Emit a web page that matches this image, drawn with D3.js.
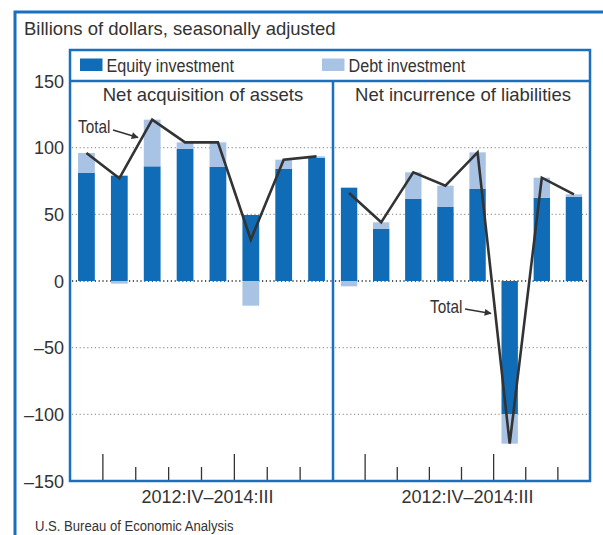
<!DOCTYPE html>
<html>
<head>
<meta charset="utf-8">
<script src="https://cdn.jsdelivr.net/npm/d3@7"></script>
<style>
  html, body { margin: 0; padding: 0; background: #fff; }
  svg { display: block; }
  .reg { font-family: "Liberation Sans", Arial, sans-serif; fill: #333; }
  .nar { font-family: "Liberation Sans", Arial, sans-serif; fill: #333; }
</style>
</head>
<body>
<svg id="chart" width="603" height="535"></svg>
<script>
// ---- data ----
const quarters = ["2012:IV","2013:I","2013:II","2013:III","2013:IV","2014:I","2014:II","2014:III"];
const assetsEquity = [81, 79, 86, 99, 85.5, 49.5, 84, 92.5];
const assetsDebt   = [15, -2, 35, 5, 18.5, -18.5, 7, 1];
const liabEquity   = [70, 39, 61.5, 55.5, 69, -100, 62.5, 63];
const liabDebt     = [-4, 5, 20, 16, 27.5, -22, 15, 2];
const yTicks = [150, 100, 50, 0, -50, -100, -150];
const gridValues = [100, 50, 0, -50, -100];
const panelTitles = ["Net acquisition of assets", "Net incurrence of liabilities"];
const xAxisLabel = "2012:IV\u20132014:III";
const seriesNames = ["Equity investment", "Debt investment"];

// ---- styling ----
const BLUE = "#1a6fbf";
const EQ = "#106cb6";
const DEBT = "#a9c3e4";
const LINE = "#333333";
const NARROW = 0.85;

const svg = d3.select("#chart");
svg.append("rect").attr("width", 603).attr("height", 535).attr("fill", "#fff");

// condensed text helper (horizontal compression of a regular sans)
function narrowText(parent, x, y, size, str) {
  return parent.append("text").attr("class", "nar").attr("font-size", size)
    .attr("transform", `translate(${x},${y}) scale(${NARROW},1)`)
    .attr("x", 0).attr("y", 0).text(str);
}

const plotL = 70, plotR = 590, divX = 333, legTop = 50, plotTop = 81, plotBot = 481;
const y = d3.scaleLinear().domain([-150, 150]).range([plotBot, plotTop]);

// outer frame
svg.append("path").attr("d", "M15,535V12H603").attr("fill", "none")
  .attr("stroke", BLUE).attr("stroke-width", 3);

// title
svg.append("text").attr("class", "reg").attr("x", 24).attr("y", 35)
  .attr("font-size", 18.5).text("Billions of dollars, seasonally adjusted");

// y tick labels
const fmt = d => d < 0 ? "\u2013" + Math.abs(d) : String(d);
svg.append("g").selectAll("text").data(yTicks).join("text")
  .attr("class", "reg").attr("font-size", 18).attr("text-anchor", "end")
  .attr("x", 64).attr("y", d => y(d) + 6.5).text(fmt);

const panels = [
  { x0: plotL, x1: divX, equity: assetsEquity, debt: assetsDebt, title: panelTitles[0] },
  { x0: divX, x1: plotR, equity: liabEquity, debt: liabDebt, title: panelTitles[1] }
];

const stack = d3.stack().keys(["equity", "debt"]).offset(d3.stackOffsetDiverging);

panels.forEach((p, pi) => {
  const g = svg.append("g");
  const x = d3.scaleBand().domain(quarters).range([p.x0, p.x1])
    .paddingInner(0.49).paddingOuter(0.245);
  const rows = quarters.map((q, i) => ({ q, equity: p.equity[i], debt: p.debt[i] }));
  const series = stack(rows);

  // gridlines
  g.append("g").selectAll("line").data(gridValues).join("line")
    .attr("x1", p.x0 + 2).attr("x2", p.x1 - 1)
    .attr("y1", d => y(d)).attr("y2", d => y(d))
    .attr("stroke", d => d === 0 ? "#222" : "#9a9a9a")
    .attr("stroke-width", d => d === 0 ? 1.3 : 1.1)
    .attr("stroke-dasharray", "1.2,2.6");

  // bars
  g.append("g").selectAll("g").data(series).join("g")
    .attr("fill", (s, i) => i === 0 ? EQ : DEBT)
    .selectAll("rect").data(s => s).join("rect")
    .attr("x", d => x(d.data.q))
    .attr("width", x.bandwidth())
    .attr("y", d => y(Math.max(d[0], d[1])))
    .attr("height", d => Math.abs(y(d[0]) - y(d[1])));

  // total line
  const totals = rows.map(r => ({ q: r.q, v: r.equity + r.debt }));
  g.append("path").datum(totals)
    .attr("fill", "none").attr("stroke", LINE).attr("stroke-width", 2.6)
    .attr("stroke-linejoin", "miter")
    .attr("d", d3.line().x(d => x(d.q) + x.bandwidth() / 2).y(d => y(d.v)));

  // bottom ticks at band boundaries
  const bounds = quarters.slice(0, -1).map((q, i) => ({ i, xv: x(q) + x.step() - (x.step() - x.bandwidth()) / 2 }));
  g.append("g").selectAll("line").data(bounds).join("line")
    .attr("x1", d => d.xv).attr("x2", d => d.xv)
    .attr("y1", d => (d.i === 0 || d.i === 4) ? plotBot - 27 : plotBot - 14)
    .attr("y2", plotBot)
    .attr("stroke", "#333").attr("stroke-width", 1.3);

  // panel title
  g.append("text").attr("class", "reg").attr("font-size", 18.5).attr("text-anchor", "middle")
    .attr("x", (p.x0 + p.x1) / 2 + 1.5).attr("y", 101).text(p.title);

  // x axis label
  g.append("text").attr("class", "reg").attr("font-size", 18).attr("text-anchor", "middle")
    .attr("x", (p.x0 + p.x1) / 2 + 6).attr("y", 503).text(xAxisLabel);
});

// frames
svg.append("rect").attr("x", plotL).attr("y", legTop).attr("width", plotR - plotL)
  .attr("height", plotBot - legTop).attr("fill", "none")
  .attr("stroke", BLUE).attr("stroke-width", 2.5);
svg.append("line").attr("x1", plotL).attr("x2", plotR).attr("y1", plotTop).attr("y2", plotTop)
  .attr("stroke", BLUE).attr("stroke-width", 2.5);
svg.append("line").attr("x1", divX).attr("x2", divX).attr("y1", plotTop).attr("y2", plotBot)
  .attr("stroke", BLUE).attr("stroke-width", 2.5);

// legend
const legendItems = [
  { name: seriesNames[0], color: EQ, x: 80 },
  { name: seriesNames[1], color: DEBT, x: 322 }
];
const lg = svg.append("g");
legendItems.forEach(d => {
  lg.append("rect").attr("x", d.x).attr("y", 58.5).attr("width", 22.5).attr("height", 12.5)
    .attr("fill", d.color);
  narrowText(lg, d.x + 26.5, 71.5, 19, d.name);
});

// annotations
const defs = svg.append("defs");
defs.append("marker").attr("id", "arr").attr("viewBox", "0 0 10 10")
  .attr("refX", 9).attr("refY", 5).attr("markerWidth", 9).attr("markerHeight", 7)
  .attr("markerUnits", "userSpaceOnUse").attr("orient", "auto")
  .append("path").attr("d", "M0,0L10,5L0,10z").attr("fill", "#333");

narrowText(svg, 78, 133, 18, "Total");
svg.append("line").attr("x1", 113).attr("y1", 130).attr("x2", 138).attr("y2", 137.5)
  .attr("stroke", "#333").attr("stroke-width", 1.5).attr("marker-end", "url(#arr)");

narrowText(svg, 430, 313, 18, "Total");
svg.append("line").attr("x1", 465).attr("y1", 309).attr("x2", 491).attr("y2", 313.5)
  .attr("stroke", "#333").attr("stroke-width", 1.5).attr("marker-end", "url(#arr)");

// source
narrowText(svg, 35, 531, 15.4, "U.S. Bureau of Economic Analysis");
</script>
</body>
</html>
